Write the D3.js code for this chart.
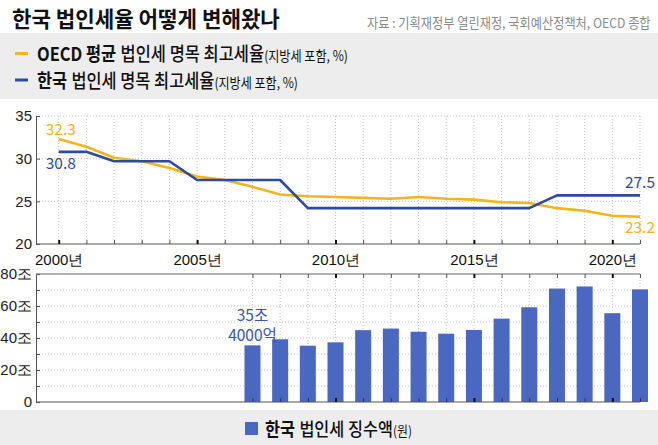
<!DOCTYPE html>
<html><head><meta charset="utf-8">
<script src="https://cdn.jsdelivr.net/npm/d3@7/dist/d3.min.js"></script>
<style>
body{margin:0;background:#fff;}
svg{display:block;font-family:"Noto Sans CJK KR","Noto Sans",sans-serif;}
text{white-space:pre;}
</style></head><body>
<svg id="c" width="658" height="445"></svg>
<script>
// ---- data ----
const years = d3.range(2000, 2022);
const oecdRate = [32.3,31.4,30.1,29.7,28.9,27.9,27.5,26.7,25.8,25.6,25.5,25.4,25.3,25.5,25.3,25.2,24.9,24.8,24.2,23.9,23.3,23.2];
const koreaRate = [30.8,30.8,29.7,29.7,29.7,27.5,27.5,27.5,27.5,24.2,24.2,24.2,24.2,24.2,24.2,24.2,24.2,24.2,25.7,25.7,25.7,25.7];
const revYears = d3.range(2007, 2022);
const revenue = [35.4,39.2,35.2,37.3,44.9,45.9,43.9,42.7,45.0,52.1,59.2,70.9,72.2,55.5,70.4];
const rateTicks = [20,25,30,35];
const revTicks = [0,10,20,30,40,50,60,70,80];
const endLabels = {oecdStart:"32.3", koreaStart:"30.8", koreaEnd:"27.5", oecdEnd:"23.2"};
const barLabel = ["35조","4000억"];

const ORANGE = "#f5b31c", NAVY = "#2d4b9d", BAR = "#4b68c0", LABELBLUE = "#3a57a8";
const svg = d3.select("#c");

// backgrounds
svg.append("rect").attr("x",0).attr("y",33).attr("width",658).attr("height",66).attr("fill","#ededed");
svg.append("rect").attr("x",0).attr("y",410).attr("width",658).attr("height",35).attr("fill","#ededed");

// condensed multi-part text: parts placed side by side, then scaled horizontally to a target width
function condensed(x, y, target, parts, fill){
  const g = svg.append("g");
  let cx = 0;
  parts.forEach(p => {
    cx += (p.gap || 0);
    const t = g.append("text").attr("x",cx).attr("y",0).attr("font-size",p.size)
      .attr("font-weight",p.weight||400).attr("fill",p.fill||fill).text(p.text);
    cx += t.node().getComputedTextLength();
  });
  const s = target / cx;
  g.attr("transform",`translate(${x},${y}) scale(${s},1)`);
  return g;
}

// title & source
condensed(12, 26.5, 268, [{text:"한국 법인세율 어떻게 변해왔나", size:22, weight:700}], "#111");
condensed(367, 28, 284, [{text:"자료 : 기획재정부 열린재정, 국회예산정책처, OECD 종합", size:13.5}], "#8a8a8a");

// legend rows
function legendRow(y, color, bold, rest, small, len){
  svg.append("line").attr("x1",15).attr("x2",28).attr("y1",y-7.5).attr("y2",y-7.5).attr("stroke",color).attr("stroke-width",3);
  condensed(37, y, len, [
    {text:bold, size:19, weight:700},
    {text:rest, size:19, weight:500, gap:5},
    {text:small, size:14, weight:400}
  ], "#111");
}
legendRow(61, ORANGE, "OECD 평균", "법인세 명목 최고세율", "(지방세 포함, %)", 311);
legendRow(87.5, NAVY, "한국", "법인세 명목 최고세율", "(지방세 포함, %)", 261);

// ---- scales ----
const plotLeft = 36, plotRight = 640;
const x = d3.scaleLinear().domain([2000, 2021]).range([58.7, 640]);
const yTop = d3.scaleLinear().domain([20, 35]).range([244, 116]);
const yBot = d3.scaleLinear().domain([0, 80]).range([402, 274]);

// ---- top panel grid ----
const gTop = svg.append("g");
gTop.selectAll("line.vg").data(years).join("line")
  .attr("x1",d=>x(d)).attr("x2",d=>x(d)).attr("y1",yTop(35)).attr("y2",yTop(20))
  .attr("stroke","#c4c4c4").attr("stroke-width",1).attr("stroke-dasharray","1,2");
gTop.selectAll("line.hg").data([25,30,35]).join("line")
  .attr("x1",plotLeft).attr("x2",plotRight).attr("y1",d=>yTop(d)).attr("y2",d=>yTop(d))
  .attr("stroke","#c4c4c4").attr("stroke-width",1).attr("stroke-dasharray","1,2");

// top axes
const axTopLeft = svg.append("g").attr("transform",`translate(${plotLeft},0)`)
  .call(d3.axisLeft(yTop).tickValues(rateTicks).tickSizeInner(-4).tickSizeOuter(0).tickPadding(4));
axTopLeft.select(".domain").attr("stroke","#555");
axTopLeft.selectAll(".tick line").attr("stroke","#555");
axTopLeft.selectAll(".tick text").attr("font-size",15).attr("fill","#222").attr("font-family",null);

svg.append("line").attr("x1",plotLeft).attr("x2",plotRight).attr("y1",yTop(20)).attr("y2",yTop(20)).attr("stroke","#555").attr("stroke-width",1.2);
const axTopX = svg.append("g").attr("transform",`translate(0,${yTop(20)})`)
  .call(d3.axisBottom(x).tickValues(years).tickSizeInner(-4).tickSizeOuter(0).tickPadding(10)
    .tickFormat(d=> d%5===0 ? d+"년" : ""));
axTopX.select(".domain").remove();
axTopX.selectAll(".tick line").attr("stroke",d=>d%5===0?"#111":"#555").attr("stroke-width",d=>d%5===0?2:1);
axTopX.selectAll(".tick text").attr("font-size",15).attr("fill","#111").attr("font-family",null);

// lines
const lineGen = yv => d3.line().x((d,i)=>x(years[i])).y(d=>yv(d));
svg.append("path").datum(oecdRate).attr("d",lineGen(yTop)).attr("fill","none").attr("stroke",ORANGE).attr("stroke-width",2.6).attr("stroke-linejoin","round");
svg.append("path").datum(koreaRate).attr("d",lineGen(yTop)).attr("fill","none").attr("stroke",NAVY).attr("stroke-width",2.6).attr("stroke-linejoin","round");

// value labels
svg.append("text").attr("x",x(2000)-13).attr("y",yTop(oecdRate[0])-4.5).attr("font-size",15.5).attr("fill",ORANGE).text(endLabels.oecdStart);
svg.append("text").attr("x",x(2000)-13).attr("y",yTop(koreaRate[0])+17).attr("font-size",15.5).attr("fill",NAVY).text(endLabels.koreaStart);
svg.append("text").attr("x",655).attr("y",yTop(koreaRate[21])-7).attr("text-anchor","end").attr("font-size",15.5).attr("fill",NAVY).text(endLabels.koreaEnd);
svg.append("text").attr("x",655).attr("y",yTop(oecdRate[21])+16).attr("text-anchor","end").attr("font-size",15.5).attr("fill",ORANGE).text(endLabels.oecdEnd);

// ---- bottom panel ----
svg.selectAll("line.bh").data(revTicks.filter(d=>d>0 && d<80)).join("line")
  .attr("x1",plotLeft).attr("x2",plotRight).attr("y1",d=>yBot(d)).attr("y2",d=>yBot(d))
  .attr("stroke","#c4c4c4").attr("stroke-width",1).attr("stroke-dasharray","1,2");
svg.selectAll("line.bv").data(revYears).join("line")
  .attr("x1",d=>x(d)).attr("x2",d=>x(d)).attr("y1",yBot(80)).attr("y2",yBot(0))
  .attr("stroke","#c4c4c4").attr("stroke-width",1).attr("stroke-dasharray","1,2");

const barW = 16;
svg.selectAll("rect.bar").data(revenue).join("rect")
  .attr("x",(d,i)=>x(revYears[i])-barW/2).attr("width",barW)
  .attr("y",d=>yBot(d)).attr("height",d=>yBot(0)-yBot(d)).attr("fill",BAR);

const axBotLeft = svg.append("g").attr("transform",`translate(${plotLeft},0)`)
  .call(d3.axisLeft(yBot).tickValues(revTicks).tickSizeInner(-4).tickSizeOuter(0).tickPadding(4)
    .tickFormat(d=> d===0 ? "0" : (d%20===0 ? d+"조" : "")));
axBotLeft.select(".domain").attr("stroke","#555");
axBotLeft.selectAll(".tick line").attr("stroke","#555");
axBotLeft.selectAll(".tick text").attr("font-size",15).attr("fill","#222").attr("font-family",null);

// top border with inward ticks
svg.append("line").attr("x1",plotLeft).attr("x2",plotRight).attr("y1",yBot(80)).attr("y2",yBot(80)).attr("stroke","#666").attr("stroke-width",1.2);
const axBotTop = svg.append("g").attr("transform",`translate(0,${yBot(80)})`)
  .call(d3.axisTop(x).tickValues(revYears).tickSizeInner(-4).tickSizeOuter(0).tickFormat(""));
axBotTop.select(".domain").remove();
axBotTop.selectAll(".tick line").attr("stroke",d=>d%5===0?"#111":"#555").attr("stroke-width",d=>d%5===0?2:1);

svg.append("line").attr("x1",plotLeft).attr("x2",plotRight).attr("y1",yBot(0)).attr("y2",yBot(0)).attr("stroke","#555").attr("stroke-width",1.2);
const axBotX = svg.append("g").attr("transform",`translate(0,${yBot(0)})`)
  .call(d3.axisBottom(x).tickValues(revYears).tickSizeInner(-4).tickSizeOuter(0).tickFormat(""));
axBotX.select(".domain").remove();
axBotX.selectAll(".tick line").attr("stroke",d=>d%5===0?"#111":"#334").attr("stroke-width",d=>d%5===0?2:1);

// bar label
const bl = svg.append("text").attr("text-anchor","middle").attr("font-size",15.5).attr("fill",LABELBLUE);
bl.append("tspan").attr("x",x(2007)).attr("y",321).text(barLabel[0]);
bl.append("tspan").attr("x",x(2007)).attr("y",341).text(barLabel[1]);

// bottom legend
svg.append("rect").attr("x",245).attr("y",422).attr("width",13).attr("height",13).attr("fill",BAR);
condensed(265, 435.5, 147, [
  {text:"한국", size:18.5, weight:700},
  {text:"법인세 징수액", size:18.5, weight:500, gap:5},
  {text:"(원)", size:13.5, weight:400}
], "#111");
</script>
</body></html>
